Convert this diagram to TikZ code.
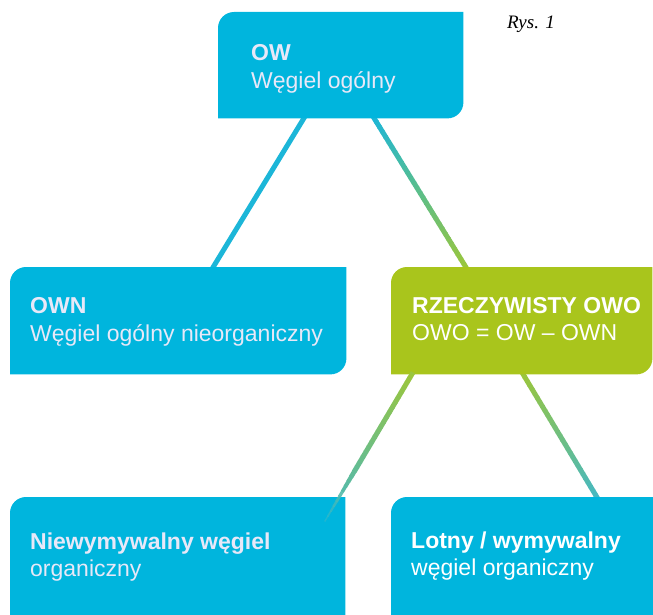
\documentclass[tikz,border=0pt]{standalone}
\usepackage{fontspec}
\setmainfont{Liberation Sans}
\newfontfamily\rysfont{Liberation Serif}
\usetikzlibrary{calc}
\definecolor{boxblue}{HTML}{00B5DD}
\definecolor{boxgreen}{HTML}{A9C51C}
\definecolor{lineblue}{HTML}{1CB6D8}
\definecolor{linegreen}{HTML}{9CC63A}
\definecolor{lineteal}{HTML}{45B8C4}
\definecolor{txtlight}{HTML}{E8E8F8}
\newcommand{\gradline}[5]{% from, to, color1, color2, width
  \foreach \i in {0,...,29}{%
    \pgfmathsetmacro{\pct}{100-100*(\i+0.5)/30}%
    \draw[line width=#5, color=#3!\pct!#4, line cap=butt]
      ($(#1)!\i/30!(#2)$) -- ($(#1)!{(\i+1.15)/30}!(#2)$);
  }%
}
\begin{document}
\begin{tikzpicture}[x=1pt,y=-1pt,
  boxnode/.style={rectangle, inner sep=0pt, anchor=north west},
  ttl/.style={anchor=base west, inner sep=0pt, font=\fontsize{23}{27.5}\selectfont\bfseries},
  sub/.style={anchor=base west, inner sep=0pt, font=\fontsize{23}{27.5}\selectfont},
  conn/.style={line width=5pt, line cap=butt}]
\useasboundingbox (0,0) rectangle (653,615);
% boxes (geometry)
\node[boxnode, minimum width=245pt, minimum height=106pt] (ow) at (218,12) {};
\node[boxnode, minimum width=336pt, minimum height=107pt] (own) at (10,267) {};
\node[boxnode, minimum width=261pt, minimum height=107pt] (owo) at (391,267) {};
\node[boxnode, minimum width=335pt, minimum height=143pt] (nie) at (10,497) {};
\node[boxnode, minimum width=280pt, minimum height=143pt] (lot) at (391,497) {};
% connector end points
\coordinate (c1a) at ($(ow.south west)+(87,-2)$);
\coordinate (c1b) at ($(own.north west)+(202,2)$);
\coordinate (c2a) at ($(ow.south west)+(155,-2)$);
\coordinate (c2b) at ($(owo.north west)+(76,2)$);
\coordinate (c3a) at ($(owo.south west)+(22,-2)$);
\coordinate (c3b) at (325,521);
\coordinate (c4a) at ($(owo.south west)+(131,-2)$);
\coordinate (c4b) at ($(lot.north west)+(207,2)$);
% connectors under the boxes
\draw[conn, lineblue] (c1a) -- (c1b);
\gradline{c2a}{c2b}{lineblue}{linegreen}{5pt}
\gradline{c4a}{c4b}{linegreen}{lineteal}{5pt}
% box fills
\foreach \b/\c in {ow/boxblue, own/boxblue, owo/boxgreen, nie/boxblue, lot/boxblue}{
  \fill[\c] (\b.south west) [rounded corners=16pt] -- (\b.north west)
    [sharp corners] -- (\b.north east) [rounded corners=16pt] -- (\b.south east)
    [sharp corners] -- cycle;
}
% tapered connector over the lower left box
\foreach \i in {0,...,29}{%
  \pgfmathsetmacro{\pct}{100-100*(\i+0.5)/30}%
  \pgfmathsetmacro{\lw}{\i<20 ? 5 : 5-3.6*(\i-19)/10}%
  \pgfmathsetmacro{\op}{\i<24 ? 1 : 1-0.55*(\i-23)/6}%
  \draw[line width=\lw pt, color=linegreen!\pct!lineteal, opacity=\op, line cap=butt]
    ($(c3a)!\i/30!(c3b)$) -- ($(c3a)!{(\i+1.1)/30}!(c3b)$);
}
% texts
\node[ttl, txtlight] (ow1) at (251,61) {OW};
\node[sub, txtlight] (ow2) at (251,89) {Węgiel ogólny};
\node[ttl, txtlight] (own1) at (30,313) {OWN};
\node[sub, txtlight] (own2) at (30,341) {Węgiel ogólny nieorganiczny};
\node[ttl, white] (owo1) at (412,313) {RZECZYWISTY OWO};
\node[sub, white] (owo2) at (412,340) {OWO = OW – OWN};
\node[ttl, txtlight] (nie1) at (30,549) {Niewymywalny węgiel};
\node[sub, txtlight] (nie2) at (30,576) {organiczny};
\node[ttl, white] (lot1) at (411,548) {Lotny / wymywalny};
\node[sub, white] (lot2) at (411,575) {węgiel organiczny};
\node[anchor=base west, inner sep=0pt, font=\rysfont\itshape\fontsize{19}{22}\selectfont] (rys) at (507,29) {Rys. 1};
\end{tikzpicture}
\end{document}
